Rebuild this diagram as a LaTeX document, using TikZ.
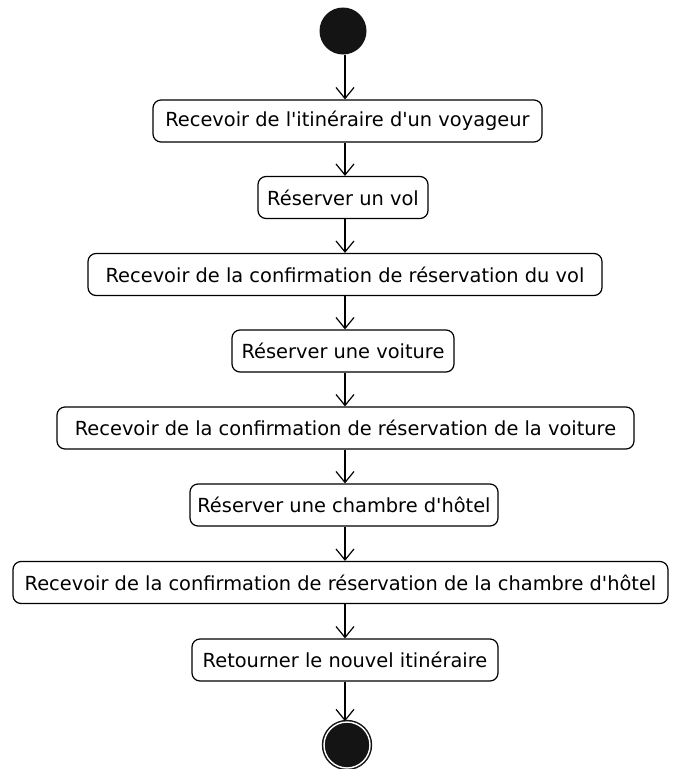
\documentclass[tikz,border=0pt]{standalone}
\usepackage{fontspec}
\setmainfont{DejaVu Sans}
\usetikzlibrary{arrows.meta}
\newcommand{\q}{\textquotesingle}
\begin{document}
\begin{tikzpicture}[x=1pt,y=-1pt,
  action/.style={draw=black,line width=1.2pt,rounded corners=8pt,fill=white,
    minimum height=42pt,inner xsep=2pt,font=\fontsize{19.4}{22}\selectfont},
  flow/.style={draw=black,line width=1.2pt,-{Straight Barb[length=11pt,width=18pt,line width=1.2pt]}},
  startnode/.style={circle,fill=black!92,minimum size=47pt,inner sep=0pt},
  endnode/.style={circle,fill=black!92,draw=black!92,line width=1.5pt,minimum size=46pt,inner sep=0pt,
    double=white,double distance=1.4pt}]
\useasboundingbox (0,0) rectangle (673,769);
\node[startnode] (start) at (343,31) {};
\node[action,minimum width=389pt] (a1) at (347.5,121) {Recevoir de l\q itinéraire d\q un voyageur};
\node[action,minimum width=170pt] (a2) at (343,197.5) {Réserver un vol};
\node[action,minimum width=514pt] (a3) at (345,274.5) {Recevoir de la confirmation de réservation du vol};
\node[action,minimum width=222pt] (a4) at (343,351) {Réserver une voiture};
\node[action,minimum width=577pt] (a5) at (345.5,428) {Recevoir de la confirmation de réservation de la voiture};
\node[action,minimum width=308pt] (a6) at (344,505) {Réserver une chambre d\q hôtel};
\node[action,minimum width=655pt] (a7) at (340.5,582.5) {Recevoir de la confirmation de réservation de la chambre d\q hôtel};
\node[action,minimum width=306pt] (a8) at (345,660) {Retourner le nouvel itinéraire};
\node[endnode] (stop) at (347,745) {};
\foreach \u/\v in {start/a1,a1/a2,a2/a3,a3/a4,a4/a5,a5/a6,a6/a7,a7/a8,a8/stop}
  \draw[flow] (\u.south -| 345,0) -- (\v.north -| 345,0);
\end{tikzpicture}
\end{document}
